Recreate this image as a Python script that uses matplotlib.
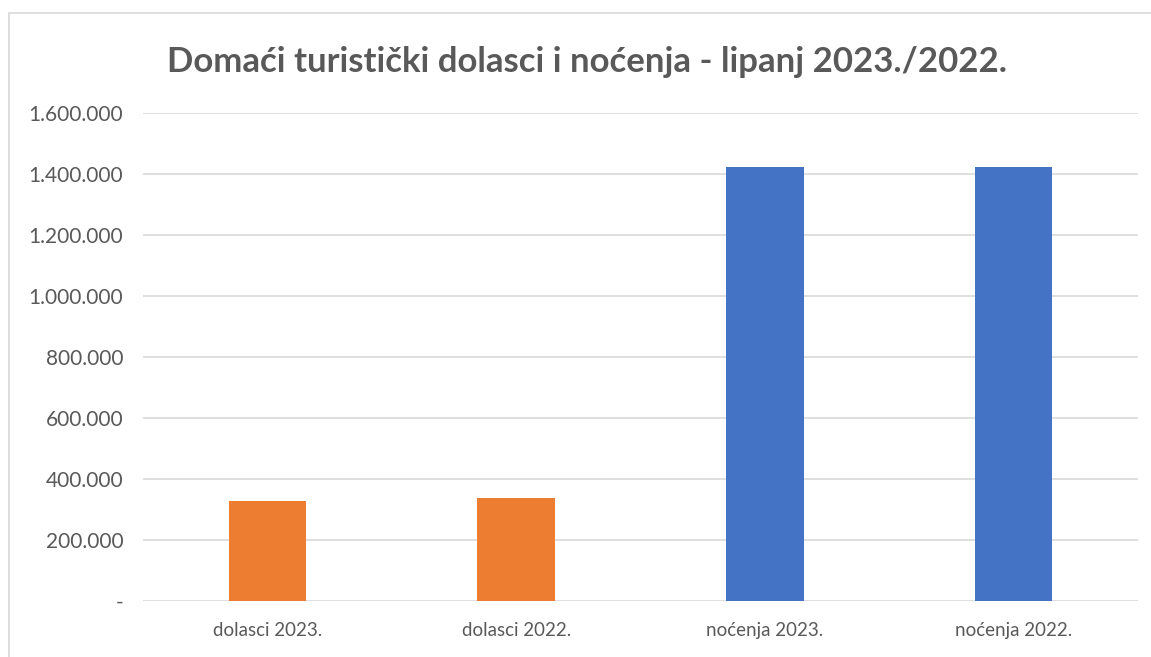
import matplotlib
matplotlib.use("Agg")
import matplotlib.pyplot as plt
from matplotlib.ticker import FuncFormatter, MultipleLocator
from matplotlib.patches import Rectangle

# values
categories = ["dolasci 2023.", "dolasci 2022.", "noćenja 2023.", "noćenja 2022."]
values = [329000, 337000, 1422000, 1422000]
colors = ["#ED7D31", "#ED7D31", "#4472C4", "#4472C4"]
title = "Domaći turistički dolasci i noćenja - lipanj 2023./2022."

plt.rcParams['font.family'] = ['Lato', 'DejaVu Sans']

fig = plt.figure(figsize=(11.51, 6.57), dpi=100)
ax = fig.add_axes([0.124, 0.085, 0.865, 0.7435])

ax.bar(range(len(categories)), values, width=0.31, color=colors, zorder=3)

ax.set_ylim(0, 1600000)
ax.set_xlim(-0.5, len(categories) - 0.5)
ax.yaxis.set_major_locator(MultipleLocator(200000))


def fmt(v, pos):
    if v == 0:
        return "-"
    return f"{int(v):,}".replace(",", ".")


ax.yaxis.set_major_formatter(FuncFormatter(fmt))
ax.set_xticks(range(len(categories)))
ax.set_xticklabels(categories)

ax.grid(axis='y', color='#d9d9d9', linewidth=1.2, zorder=0)
for s in ax.spines.values():
    s.set_visible(False)
ax.tick_params(axis='y', length=0, pad=14, labelsize=15, labelcolor='#595959')
ax.tick_params(axis='x', length=0, pad=15, labelsize=13.5, labelcolor='#595959')

fig.text(0.51, 0.906, title, ha='center', va='center', fontsize=25,
         fontweight='bold', color='#595959')

# light chart border
fig.patches.append(Rectangle((0.008, -0.01), 1.1, 0.99, transform=fig.transFigure,
                             fill=False, edgecolor='#d9d9d9', linewidth=1.2))

fig.savefig("out.png", dpi=100)
